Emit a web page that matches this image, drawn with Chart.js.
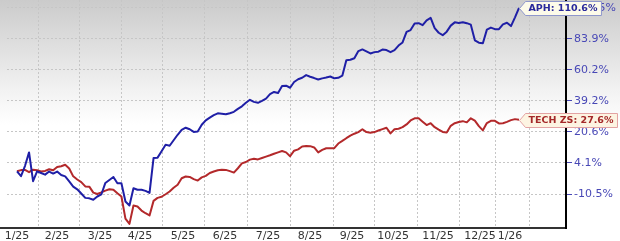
<!DOCTYPE html>
<html>
<head>
<meta charset="utf-8">
<script src="https://cdn.jsdelivr.net/npm/chart.js@4.4.1/dist/chart.umd.min.js"></script>
<style>
  html, body { margin: 0; padding: 0; background: #fff; }
  #wrap { width: 620px; height: 241px; background: linear-gradient(to bottom, #cbcbcb 0px, #f2f2f2 90px, #ffffff 125px); }
  canvas { display: block; }
</style>
</head>
<body>
<div id="wrap"><canvas id="chart" width="620" height="241"></canvas></div>
<script>
// % change since the start, one reading per sample step
var aphPct = [
  0.0, -2.3, 2.7, 9.5, -4.7, 0.0, -0.8, -1.6, -0.1, -1.1,
  -0.1, -1.8, -2.4, -4.8, -7.2, -8.4, -10.3, -12.2, -12.4, -13.0,
  -11.6, -10.7, -5.5, -4.1, -2.7, -5.6, -5.6, -13.8, -15.5, -7.9,
  -8.6, -8.6, -9.1, -10.0, 6.6, 6.8, 10.1, 13.6, 13.0, 16.0,
  19.0, 21.8, 23.0, 22.1, 20.6, 20.9, 24.7, 27.3, 28.9, 30.4,
  31.5, 31.2, 30.9, 31.5, 32.4, 34.2, 35.8, 38.0, 39.9, 38.6,
  38.0, 39.2, 40.6, 43.6, 45.0, 44.3, 49.0, 49.2, 47.8, 51.7,
  53.6, 54.6, 56.5, 55.3, 54.4, 53.4, 54.2, 54.8, 55.5, 54.2,
  54.6, 56.1, 67.2, 67.6, 68.7, 74.2, 75.5, 74.0, 72.4, 73.4,
  73.7, 75.4, 75.0, 73.4, 75.0, 78.5, 81.0, 89.6, 91.1, 96.8,
  97.0, 95.3, 99.5, 101.6, 92.8, 88.9, 86.9, 89.8, 94.9, 97.7,
  97.2, 97.8, 97.0, 95.7, 82.7, 80.8, 80.4, 91.5, 93.2, 91.9,
  91.9, 96.0, 97.4, 94.5, 102.1, 110.6
];
var techPct = [
  0.0, 0.6, 0.7, -0.4, 0.8, 0.5, -0.1, 0.2, 1.0, 0.5,
  2.1, 2.5, 3.2, 1.4, -2.4, -3.9, -5.1, -7.1, -7.2, -9.9,
  -10.5, -9.8, -9.0, -8.4, -8.6, -10.2, -11.6, -20.9, -23.0, -15.5,
  -15.9, -17.6, -18.7, -19.6, -13.5, -12.2, -11.7, -10.6, -9.4, -7.7,
  -6.3, -3.3, -2.5, -2.7, -3.7, -4.4, -2.9, -2.2, -0.8, -0.1,
  0.5, 0.8, 0.7, 0.1, -0.6, 1.5, 3.9, 4.6, 5.8, 6.2,
  5.9, 6.6, 7.3, 8.0, 8.8, 9.5, 10.2, 9.5, 7.5, 10.4,
  11.1, 12.6, 12.9, 12.8, 12.1, 9.5, 10.8, 11.7, 11.7, 11.7,
  14.2, 15.6, 17.1, 18.5, 19.6, 20.5, 22.1, 20.5, 20.2, 20.5,
  21.4, 22.2, 23.0, 19.8, 22.1, 22.4, 23.3, 24.9, 27.2, 28.5,
  28.5, 26.5, 24.5, 25.6, 23.3, 21.9, 20.6, 20.3, 24.1, 25.6,
  26.3, 26.8, 26.1, 28.5, 27.1, 23.9, 21.5, 25.7, 27.0, 27.0,
  25.5, 25.6, 26.4, 27.4, 28.0, 27.6
];

// y axis ticks (log scale on BASE + pct)
var yTickPct = [-10.5, 4.1, 20.6, 39.2, 60.2, 83.9, 110.5];
var yTickLabels = ['-10.5%', '4.1%', '20.6%', '39.2%', '60.2%', '83.9%', '110.5%'];
var BASE = 124.1;
var yMinPct = -24.6;
var yMaxPct = 117.9;

// x axis, in sample steps
var monthLabels = ['1/25', '2/25', '3/25', '4/25', '5/25', '6/25', '7/25', '8/25', '9/25', '10/25', '11/25', '12/25', '1/26'];
var monthLabelAt = [0, 9.96, 20.67, 30.63, 41.33, 51.79, 62.5, 72.96, 83.42, 93.63, 104.83, 115.29, 122.76];
var monthGridAt = [5.23, 15.44, 25.9, 36.35, 46.81, 57.27, 67.98, 78.69, 89.14, 99.6, 110.06, 119.27, 127.49];
var xMin = -2.49;
var xMax = 136.7;

function toPoints(arr) {
  return arr.map(function (v, i) { return { x: i, y: v + BASE }; });
}

function noPad(scale) {
  scale.paddingTop = 0; scale.paddingBottom = 0;
  scale.paddingLeft = 0; scale.paddingRight = 0;
}

var tagPlugin = {
  id: 'tags',
  afterDraw: function (chart) {
    var ctx = chart.ctx;
    var area = chart.chartArea;
    // bottom axis line runs to the left edge
    ctx.save();
    ctx.strokeStyle = '#333';
    ctx.lineWidth = 2;
    ctx.beginPath();
    ctx.moveTo(0, area.bottom);
    ctx.lineTo(area.left, area.bottom);
    ctx.stroke();
    ctx.restore();

    chart.data.datasets.forEach(function (ds, i) {
      var meta = chart.getDatasetMeta(i);
      var pt = meta.data[meta.data.length - 1];
      var text = ds.label + ': ' + ds.lastPct.toFixed(1) + '%';
      ctx.save();
      ctx.font = 'bold 9.5px "DejaVu Sans"';
      var w = ctx.measureText(text).width + 7;
      var h = 14;
      var x = Math.round(pt.x) + 0.5, y = Math.round(pt.y) + 0.5;
      ctx.beginPath();
      ctx.moveTo(x, y);
      ctx.lineTo(x + 6, y - h / 2);
      ctx.lineTo(x + 6 + w, y - h / 2);
      ctx.lineTo(x + 6 + w, y + h / 2);
      ctx.lineTo(x + 6, y + h / 2);
      ctx.closePath();
      ctx.fillStyle = ds.tagFill;
      ctx.fill();
      ctx.strokeStyle = ds.tagBorder;
      ctx.lineWidth = 1;
      ctx.stroke();
      ctx.fillStyle = ds.tagText;
      ctx.textBaseline = 'middle';
      ctx.fillText(text, x + 9, y + 0.5);
      ctx.restore();
    });
  }
};

new Chart(document.getElementById('chart').getContext('2d'), {
  type: 'line',
  data: {
    datasets: [{
      label: 'APH',
      data: toPoints(aphPct),
      borderColor: '#1f1fa6',
      borderWidth: 2,
      pointRadius: 0,
      lastPct: aphPct[aphPct.length - 1],
      tagFill: '#fdfbea',
      tagBorder: '#8f97cc',
      tagText: '#2a2a9c'
    }, {
      label: 'TECH ZS',
      data: toPoints(techPct),
      borderColor: '#b3292b',
      borderWidth: 2,
      pointRadius: 0,
      lastPct: techPct[techPct.length - 1],
      tagFill: '#fdf4e2',
      tagBorder: '#e3a3a3',
      tagText: '#a42828'
    }]
  },
  options: {
    responsive: false,
    animation: false,
    devicePixelRatio: 1,
    layout: { padding: { left: 7, top: 0, right: 0, bottom: 0 } },
    plugins: { legend: { display: false }, tooltip: { enabled: false } },
    elements: { line: { tension: 0, borderJoinStyle: 'round' } },
    scales: {
      x: {
        type: 'linear',
        position: 'bottom',
        min: xMin,
        max: xMax,
        bounds: 'data',
        afterBuildTicks: function (scale) {
          scale.ticks = monthGridAt.map(function (v) { return { value: v }; });
        },
        afterFit: function (scale) { scale.height = 0; noPad(scale); },
        ticks: { display: false },
        grid: { color: '#c6c6c6', lineWidth: 1, drawTicks: false },
        border: { display: true, color: '#333', width: 2, dash: [2, 2] }
      },
      xl: {
        type: 'linear',
        position: 'bottom',
        min: xMin,
        max: xMax,
        bounds: 'data',
        afterBuildTicks: function (scale) {
          scale.ticks = monthLabelAt.map(function (v) { return { value: v }; });
        },
        afterFit: function (scale) { scale.height = 13; noPad(scale); },
        ticks: {
          autoSkip: false,
          maxRotation: 0,
          minRotation: 0,
          padding: 2,
          color: '#333',
          font: { family: 'DejaVu Sans', size: 11 },
          callback: function (v, i) { return monthLabels[i]; }
        },
        grid: { display: false, drawTicks: false },
        border: { display: false }
      },
      y: {
        type: 'logarithmic',
        position: 'right',
        min: yMinPct + BASE,
        max: yMaxPct + BASE,
        bounds: 'data',
        afterBuildTicks: function (scale) {
          scale.ticks = yTickPct.map(function (v) { return { value: v + BASE }; });
        },
        afterFit: function (scale) { scale.width = 54; noPad(scale); },
        ticks: {
          autoSkip: false,
          padding: 2,
          color: '#4848b6',
          font: { family: 'DejaVu Sans', size: 11 },
          callback: function (v, i) { return yTickLabels[i]; }
        },
        grid: { color: '#c6c6c6', lineWidth: 1, drawTicks: true, tickLength: 6, tickColor: '#4848b6', tickBorderDash: [] },
        border: { display: true, color: '#000', width: 2, dash: [2, 2] }
      }
    }
  },
  plugins: [tagPlugin]
});
</script>
</body>
</html>
